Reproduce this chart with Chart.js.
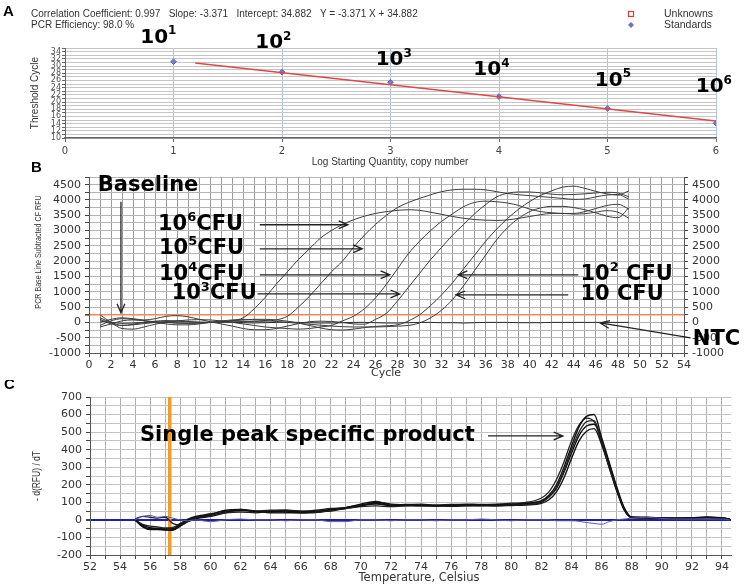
<!DOCTYPE html>
<html>
<head>
<meta charset="utf-8">
<script src="https://cdn.jsdelivr.net/npm/chart.js@4.4.1/dist/chart.umd.min.js"></script>
<style>
  body { margin: 0; background: #fff; }
  #page { position: relative; width: 746px; height: 586px; overflow: hidden; background: #fff; }
  canvas { position: absolute; left: 0; }
</style>
</head>
<body>
<div id="page">
  <canvas id="chartA" width="746" height="172" style="top:0px"></canvas>
  <canvas id="chartB" width="746" height="225" style="top:160px"></canvas>
  <canvas id="chartC" width="746" height="206" style="top:380px"></canvas>
</div>
<script>
// ---------- A: standard curve ----------
var logQuantity = [1, 2, 3, 4, 5, 6];
var thresholdCycle = [31.2, 28.3, 25.5, 21.5, 18.2, 14.1];
var fitQuantity = [1.2, 6];
var fitCycle = [30.8, 14.7];
var copyExponents = ['1', '2', '3', '4', '5', '6'];

// ---------- B: amplification curves (RFU per cycle) ----------
var cycles = [1,2,3,4,5,6,7,8,9,10,11,12,13,14,15,16,17,18,19,20,21,22,23,24,25,
              26,27,28,29,30,31,32,33,34,35,36,37,38,39,40,41,42,43,44,45,46,47,48,49];
var cfu1e6 = [100, -50, -100, -60, 0, 40, 60, 50, 20, 0, 0, 20, 60, 150,
              450, 820, 1250, 1650, 2050, 2400, 2750, 3000, 3200, 3350, 3470, 3560, 3620, 3660, 3680, 3660,
              3600, 3530, 3460, 3400, 3360, 3340, 3330, 3350, 3400, 3460, 3520, 3560, 3560, 3540, 3550, 3600, 3650, 3600, 3400];
var cfu1e5 = [-100, 50, 120, 100, 60, 20, 0, -20, -30, -20, 0, 10, 20, 30, 30, 40, 80,
              200, 500, 850, 1250, 1650, 2000, 2450, 2850, 3200, 3500, 3750, 3920, 4050, 4170, 4270, 4330,
              4350, 4350, 4330, 4270, 4210, 4170, 4140, 4110, 4080, 4050, 4020, 4030, 4100, 4160, 4180, 4020];
var cfu1e4 = [250, 0, -200, -220, -150, -60, 0, 50, 80, 90, 80, 50, 0, -50, -100, -150, -180, -200, -220, -200, -150, -100,
              50, 200, 450, 800, 1250, 1750, 2250, 2650, 3000, 3300, 3550, 3780, 3920,
              3960, 3940, 3900, 3820, 3700, 3620, 3580, 3560, 3560, 3620, 3720, 3820, 3860, 3700];
var cfu1e3 = [0, 100, 150, 120, 80, 120, 200, 220, 180, 100, 20, -50, -120, -200, -240, -240, -200, -120, -40, 20, 40, 30, 0, -50, -60,
              100, 300, 700, 1150, 1600, 2050, 2450, 2850, 3200, 3550, 3850, 4100,
              4220, 4260, 4260, 4230, 4190, 4170, 4180, 4200, 4230, 4250, 4230, 4100];
var cfu1e2 = [150, 0, -100, -80, -40, 0, 30, 40, 30, 10, 0, 20, 50, 80, 100, 100, 80, 40, -20, -100, -180, -240, -250, -220, -170, -130, -110, -80,
              50, 250, 550, 900, 1300, 1750, 2200, 2650, 3050, 3400, 3700, 3950, 4150,
              4300, 4420, 4450, 4380, 4280, 4200, 4160, 4300];
var cfu10 = [-150, -50, 50, 80, 50, 0, -50, -80, -80, -50, 0, 50, 80, 90, 80, 60, 30, 0, -30, -60, -90, -120, -140, -150, -150, -150, -140, -120, -100, -20,
             150, 400, 750, 1200, 1700, 2200, 2700, 3100, 3400, 3620,
             3740, 3790, 3790, 3750, 3680, 3580, 3470, 3420, 3750];
var ntcCurve = [50, 0, -30, -20, 0, 10, 0, -20, -30, -20,
                0, 10, 0, -10, -20, -10, 0, 10, 0, -10,
                -20, -20, -10, 0, 0, -10, -20, -20, -10, 0,
                0, -10, -10, -20, -10, 0, 0, 0, -10, -10,
                -10, 0, 0, 0, 0, 0, 0, 0, 0];
var thresholdRFU = 250;

// ---------- C: melt curves (-dRFU/dT per temperature) ----------
var temps = [55, 55.5, 56, 56.5, 57, 57.5, 58, 58.5, 59,
             60, 61, 62, 63, 64, 65, 66, 67, 68, 69, 70, 71, 72, 73, 74, 75, 76, 77, 78, 79, 80, 81, 82,
             82.5, 83, 83.5, 84, 84.5, 85, 85.5, 86, 86.5, 87, 87.5, 88,
             89, 90, 91, 92, 93, 94, 94.5];
var melt1 = [0, -30, -45, -48, -52, -50, -25, 0, 15,
             30, 55, 60, 45, 45, 50, 45, 50, 60, 70, 85, 95, 80, 85, 85, 80, 85, 85, 85, 85, 90, 95, 110,
             140, 200, 300, 420, 530, 590, 600, 470, 330, 190, 70, 15,
             12, 10, 8, 10, 15, 10, 5];
var melt2 = [5, 20, 15, 10, 15, -20, -30, -10, 10,
             25, 40, 45, 40, 50, 55, 50, 45, 55, 65, 75, 80, 75, 80, 80, 78, 80, 82, 80, 80, 85, 88, 100,
             130, 185, 280, 400, 500, 560, 565, 450, 310, 175, 65, 15,
             15, 10, 8, 10, 12, 8, 5];
var melt3 = [0, -40, -55, -55, -58, -55, -30, -5, 10,
             25, 45, 55, 50, 40, 40, 40, 45, 50, 65, 80, 100, 90, 85, 80, 80, 78, 80, 82, 80, 82, 85, 95,
             115, 160, 240, 350, 450, 505, 520, 430, 300, 170, 60, 12,
             12, 10, 10, 12, 15, 12, 5];
var melt4 = [0, -25, -35, -40, -45, -42, -20, 5, 20,
             35, 50, 55, 50, 55, 55, 50, 55, 65, 70, 80, 90, 85, 88, 90, 85, 88, 90, 88, 90, 95, 100, 125,
             160, 230, 330, 450, 540, 580, 560, 440, 300, 165, 55, 15,
             14, 12, 10, 10, 14, 10, 5];
var melt5 = [0, -35, -50, -50, -55, -60, -35, -10, 5,
             20, 40, 60, 50, 48, 45, 40, 42, 55, 70, 90, 105, 85, 82, 84, 82, 84, 86, 84, 86, 88, 92, 105,
             130, 180, 270, 380, 480, 535, 545, 460, 320, 180, 65, 15,
             12, 10, 9, 11, 14, 10, 5];
var meltNTC = [0, 20, 25, 15, 20, 10, 0, -5, 0,
               -10, 0, 5, 0, 0, -5, 0, 0, -10, -10, 0, 0, -5, 0, 0, -5, 0, 0, 5, 0, -5, 0, 0,
               0, -5, -5, -5, -8, -15, -20, -25, -10, 0, 5, 10,
               15, 8, 5, 5, 5, 5, 0];
var meltMarker = 57.3;

// ---------- helpers ----------
function pts(xs, ys) { return xs.map(function (v, i) { return { x: v, y: ys[i] }; }); }
function fixW(w) { return function (s) { s.width = w; s.paddingTop = 0; s.paddingBottom = 0; }; }
function fixH(h) { return function (s) { s.height = h; s.paddingLeft = 0; s.paddingRight = 0; }; }

var BOLD = '"DejaVu Sans"';
function supText(c, x, y, parts, size, align) {
  var big = 'bold ' + size + 'px ' + BOLD, small = 'bold ' + Math.round(size * 0.62) + 'px ' + BOLD;
  var w = 0;
  c.textBaseline = 'middle';
  parts.forEach(function (p) { c.font = p[1] ? small : big; w += c.measureText(p[0]).width; });
  var cx = align === 'center' ? x - w / 2 : x;
  c.textAlign = 'left';
  parts.forEach(function (p) {
    c.font = p[1] ? small : big;
    c.fillText(p[0], cx, p[1] ? y - size * 0.32 : y);
    cx += c.measureText(p[0]).width;
  });
  return cx;
}
function arrow(c, x1, y1, x2, y2) {
  var a = Math.atan2(y2 - y1, x2 - x1), h = 10;
  c.beginPath();
  c.moveTo(x1, y1); c.lineTo(x2, y2);
  c.moveTo(x2 - h * Math.cos(a - 0.4), y2 - h * Math.sin(a - 0.4));
  c.lineTo(x2, y2);
  c.lineTo(x2 - h * Math.cos(a + 0.4), y2 - h * Math.sin(a + 0.4));
  c.stroke();
}
function vText(c, txt, x, y, font, squeeze) {
  c.save();
  c.translate(x, y); c.rotate(-Math.PI / 2); c.scale(squeeze, 1);
  c.font = font; c.textAlign = 'center'; c.textBaseline = 'middle';
  c.fillText(txt, 0, 0);
  c.restore();
}

Chart.defaults.font.family = '"DejaVu Sans"';
Chart.defaults.color = '#333';

// ================= A =================
var expAt = [[0.86, 37.9], [1.92, 36.4], [3.03, 31.6], [3.93, 28.9], [5.05, 26.0], [5.98, 24.1]];

var notesA = {
  id: 'notesA',
  afterDraw: function (chart) {
    var c = chart.ctx, x = chart.scales.x, y = chart.scales.y;
    c.save();
    c.fillStyle = '#000';
    c.font = 'bold 15px "Liberation Sans"';
    c.textAlign = 'left'; c.textBaseline = 'middle';
    c.fillText('A', 3, 12);
    c.fillStyle = '#333';
    c.font = '10px "Liberation Sans"';
    c.fillText('Correlation Coefficient: 0.997   Slope: -3.371   Intercept: 34.882   Y = -3.371 X + 34.882', 31, 14);
    c.fillText('PCR Efficiency: 98.0 %', 31, 25);
    c.font = '10.5px "Liberation Sans"';
    c.fillText('Unknowns', 664, 14);
    c.fillText('Standards', 664, 25);
    c.strokeStyle = '#d04040'; c.lineWidth = 1.2;
    c.strokeRect(628.5, 11.5, 5, 5);
    c.fillStyle = '#7070c8';
    c.beginPath(); c.moveTo(631, 22); c.lineTo(634, 25); c.lineTo(631, 28); c.lineTo(628, 25); c.closePath(); c.fill();
    c.fillStyle = '#000';
    for (var i = 0; i < expAt.length; i++) {
      supText(c, x.getPixelForValue(expAt[i][0]), y.getPixelForValue(expAt[i][1]), [['10', 0], [copyExponents[i], 1]], 20, 'center');
    }
    c.fillStyle = '#333';
    c.font = '10px "Liberation Sans"'; c.textAlign = 'center';
    c.fillText('Log Starting Quantity, copy number', 390, 162);
    vText(c, 'Threshold Cycle', 35, 93, '10px "Liberation Sans"', 1);
    c.restore();
  }
};

new Chart(document.getElementById('chartA').getContext('2d'), {
  type: 'line',
  data: {
    datasets: [
      {
        label: 'fit',
        data: pts(fitQuantity, fitCycle),
        borderColor: '#e04848', borderWidth: 1.5, pointRadius: 0
      },
      {
        label: 'Standards',
        data: pts(logQuantity, thresholdCycle),
        showLine: false, pointStyle: 'rectRot', pointRadius: 2.8,
        backgroundColor: '#7a7ad0', borderColor: '#5a5ab8', borderWidth: 1
      }
    ]
  },
  options: {
    responsive: false, animation: false, devicePixelRatio: 1,
    layout: { padding: { left: 0, right: 30, top: 48, bottom: 0 } },
    plugins: { legend: { display: false }, tooltip: { enabled: false } },
    scales: {
      x: {
        type: 'linear', min: 0, max: 6,
        ticks: { stepSize: 1, padding: 3, color: '#444', font: { size: 10 }, maxRotation: 0 },
        grid: { color: function (k) { return k.tick.value === 0 ? 'rgba(0,0,0,0)' : '#b4c2dc'; }, tickLength: 4, tickColor: '#666' },
        border: { color: '#666', width: 1.5 },
        afterFit: fixH(34)
      },
      y: {
        min: 10, max: 35,
        ticks: {
          stepSize: 1, autoSkip: false, padding: 1, color: '#555', font: { size: 8 },
          callback: function (v) { return v % 2 === 0 ? v : ''; }
        },
        grid: { color: '#c6c6c6', tickLength: 3, tickColor: '#666' },
        border: { color: '#666' },
        afterFit: fixW(65)
      }
    }
  },
  plugins: [notesA]
});

// ================= B =================
var notesB = {
  id: 'notesB',
  afterDraw: function (chart) {
    var c = chart.ctx, x = chart.scales.x, y = chart.scales.y;
    function px(v) { return x.getPixelForValue(v); }
    function py(v) { return y.getPixelForValue(v); }
    c.save();
    c.fillStyle = '#000';
    c.font = 'bold 15px "Liberation Sans"'; c.textAlign = 'left'; c.textBaseline = 'middle';
    c.fillText('B', 31, 8);
    c.strokeStyle = '#222'; c.lineWidth = 1.3;
    supText(c, px(0.8), py(4467), [['Baseline', 0]], 21, 'left');
    arrow(c, px(2.9), py(3944), px(2.9), py(310));
    supText(c, px(6.26), py(3190), [['10', 0], ['6', 1], ['CFU', 0]], 21, 'left');
    arrow(c, px(15.5), py(3190), px(23.5), py(3190));
    supText(c, px(6.35), py(2405), [['10', 0], ['5', 1], ['CFU', 0]], 21, 'left');
    arrow(c, px(15.5), py(2405), px(24.8), py(2405));
    supText(c, px(6.35), py(1554), [['10', 0], ['4', 1], ['CFU', 0]], 21, 'left');
    arrow(c, px(15.5), py(1554), px(27.3), py(1554));
    supText(c, px(7.5), py(931), [['10', 0], ['3', 1], ['CFU', 0]], 21, 'left');
    arrow(c, px(15.3), py(931), px(28.2), py(931));
    supText(c, px(44.6), py(1554), [['10', 0], ['2', 1], [' CFU', 0]], 21, 'left');
    arrow(c, px(44.4), py(1554), px(33.5), py(1554));
    supText(c, px(44.6), py(899), [['10 CFU', 0]], 21, 'left');
    arrow(c, px(43.5), py(899), px(33.3), py(899));
    supText(c, px(54.8), py(-574), [['NTC', 0]], 21, 'left');
    arrow(c, px(54.6), py(-509), px(46.4), py(-18));
    c.fillStyle = '#333';
    c.font = '11px "DejaVu Sans"'; c.textAlign = 'center';
    c.fillText('Cycle', 386, 213);
    vText(c, 'PCR Base Line Subtracted CF RFU', 38, 92, '9.5px "Liberation Sans"', 0.75);
    c.restore();
  }
};

function curveB(arr, color) {
  return { data: pts(cycles, arr), borderColor: color, borderWidth: 1, pointRadius: 0, cubicInterpolationMode: 'monotone' };
}
var yTicksB = {
  stepSize: 250, autoSkip: false, color: '#333', font: { size: 11 }, padding: 4,
  callback: function (v) { return v % 500 === 0 ? v : ''; }
};

new Chart(document.getElementById('chartB').getContext('2d'), {
  type: 'line',
  data: {
    datasets: [
      curveB(cfu1e6, '#3c3c3c'), curveB(cfu1e5, '#3c3c3c'), curveB(cfu1e4, '#3c3c3c'),
      curveB(cfu1e3, '#3c3c3c'), curveB(cfu1e2, '#3c3c3c'), curveB(cfu10, '#3c3c3c'),
      curveB(ntcCurve, '#2a2a2a')
    ]
  },
  options: {
    responsive: false, animation: false, devicePixelRatio: 1,
    layout: { padding: { left: 0, right: 0, top: 17, bottom: 0 } },
    plugins: { legend: { display: false }, tooltip: { enabled: false } },
    scales: {
      x: {
        type: 'linear', min: 0, max: 54,
        ticks: {
          stepSize: 1, autoSkip: false, maxRotation: 0, color: '#333', font: { size: 11 }, padding: 2,
          callback: function (v) { return v % 2 === 0 ? v : ''; }
        },
        grid: { color: '#9c9c9c', tickLength: 4, tickColor: '#444' },
        border: { color: '#555' },
        afterFit: fixH(32)
      },
      y: {
        min: -1000, max: 4750, ticks: yTicksB,
        grid: {
          color: function (k) { return k.tick.value === thresholdRFU ? '#f08a50' : '#b4b4b4'; },
          lineWidth: function (k) { return k.tick.value === thresholdRFU ? 1.6 : 1; },
          tickLength: 4, tickColor: '#444'
        },
        border: { color: '#555' },
        afterFit: fixW(89)
      },
      y2: {
        position: 'right', min: -1000, max: 4750, ticks: yTicksB,
        grid: { drawOnChartArea: false, tickLength: 4, tickColor: '#444' },
        border: { color: '#555' },
        afterFit: fixW(62)
      }
    }
  },
  plugins: [notesB]
});

// ================= C =================
var notesC = {
  id: 'notesC',
  afterDraw: function (chart) {
    var c = chart.ctx, x = chart.scales.x, y = chart.scales.y;
    c.save();
    c.fillStyle = '#000';
    c.font = 'bold 15px "Liberation Sans"'; c.textAlign = 'left'; c.textBaseline = 'middle';
    c.fillText('C', 4, 5);
    c.strokeStyle = '#222'; c.lineWidth = 1.3;
    supText(c, x.getPixelForValue(55.32), y.getPixelForValue(478), [['Single peak specific product', 0]], 21, 'left');
    arrow(c, x.getPixelForValue(78.45), y.getPixelForValue(478), x.getPixelForValue(83.43), y.getPixelForValue(478));
    c.fillStyle = '#333';
    c.font = '11.5px "DejaVu Sans"'; c.textAlign = 'center';
    c.fillText('Temperature, Celsius', 419, 198);
    vText(c, '- d(RFU) / dT', 37, 96, '10px "Liberation Sans"', 0.85);
    c.restore();
  }
};

function curveC(arr, color, w) {
  return { data: pts(temps, arr), borderColor: color, borderWidth: w, pointRadius: 0, cubicInterpolationMode: 'monotone' };
}

new Chart(document.getElementById('chartC').getContext('2d'), {
  type: 'line',
  data: {
    datasets: [
      curveC(meltNTC, '#5a5ab0', 1),
      curveC(melt1, '#111', 1.4), curveC(melt2, '#222', 1.3), curveC(melt3, '#111', 1.4),
      curveC(melt4, '#222', 1.3), curveC(melt5, '#111', 1.4),
      {
        data: [{ x: meltMarker, y: -200 }, { x: meltMarker, y: 700 }],
        borderColor: '#f39a2a', borderWidth: 3.5, pointRadius: 0
      }
    ]
  },
  options: {
    responsive: false, animation: false, devicePixelRatio: 1,
    layout: { padding: { left: 0, right: 15, top: 17, bottom: 0 } },
    plugins: { legend: { display: false }, tooltip: { enabled: false } },
    scales: {
      x: {
        type: 'linear', min: 52, max: 94.6,
        ticks: {
          stepSize: 1, includeBounds: false, autoSkip: false, maxRotation: 0, color: '#333', font: { size: 11 }, padding: 2,
          callback: function (v) { return v % 2 === 0 ? v : ''; }
        },
        grid: { color: '#b0b0b0', tickLength: 4, tickColor: '#444' },
        border: { color: '#555' },
        afterFit: fixH(31)
      },
      y: {
        min: -200, max: 700,
        ticks: {
          stepSize: 50, autoSkip: false, color: '#333', font: { size: 11 }, padding: 4,
          callback: function (v) { return v % 100 === 0 ? v : ''; }
        },
        grid: {
          color: function (k) { return k.tick.value === 0 ? '#1e1ea8' : '#c4c4c4'; },
          lineWidth: function (k) { return k.tick.value === 0 ? 2 : 1; },
          tickLength: 4, tickColor: '#444'
        },
        border: { color: '#555' },
        afterFit: fixW(90)
      }
    }
  },
  plugins: [notesC]
});
</script>
</body>
</html>
